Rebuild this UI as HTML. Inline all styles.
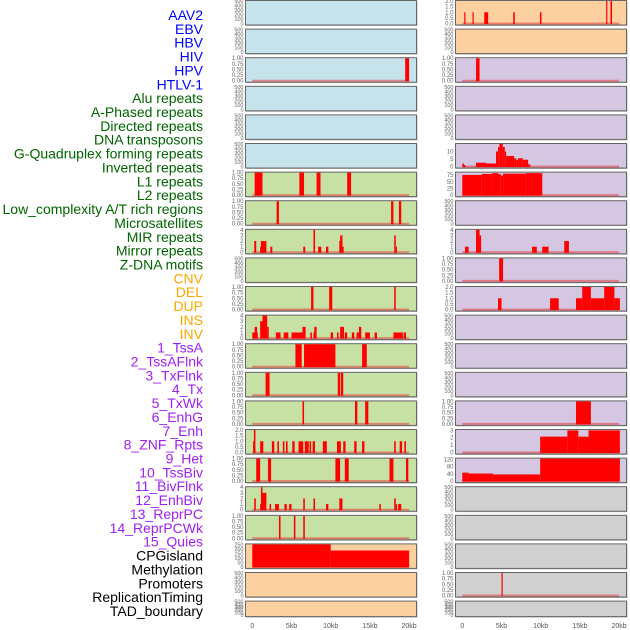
<!DOCTYPE html>
<html><head><meta charset="utf-8"><style>
html,body{margin:0;padding:0;background:#fff;}
svg{display:block;font-family:"Liberation Sans",sans-serif;}
</style></head><body>
<svg id="chart" width="630" height="630" viewBox="0 0 630 630" xmlns="http://www.w3.org/2000/svg">
<g id="labels"></g>
<g id="panels"></g>
<g id="xaxes"></g>
</svg>
<script>
const trackLabels=["AAV2","EBV","HBV","HIV","HPV","HTLV-1","Alu repeats","A-Phased repeats","Directed repeats","DNA transposons","G-Quadruplex forming repeats","Inverted repeats","L1 repeats","L2 repeats","Low_complexity A/T rich regions","Microsatellites","MIR repeats","Mirror repeats","Z-DNA motifs","CNV","DEL","DUP","INS","INV","1_TssA","2_TssAFlnk","3_TxFlnk","4_Tx","5_TxWk","6_EnhG","7_Enh","8_ZNF_Rpts","9_Het","10_TssBiv","11_BivFlnk","12_EnhBiv","13_ReprPC","14_ReprPCWk","15_Quies","CPGisland","Methylation","Promoters","ReplicationTiming","TAD_boundary"];
const labelColors=["#0000ff","#006400","#ffa500","#a020f0","#000000"];
const labelGroupSizes=[6,13,5,15,5];
const xTickKb=[0,5,10,15,20];
const xTickLabels=["0","5kb","10kb","15kb","20kb"];
const ticksEmpty=[0,100,200,300,400,500];
const ticksUnit=[0,0.25,0.5,0.75,1];
const ticksTwo=[0,0.5,1,1.5,2];
const ticksFour=[0,1,2,3,4];
// segments: [startKb, endKb, value]
const L2_hiv=[[19.5,20,1]];
const L6_l1=[[0.3,1.3,1],[6.0,6.6,1],[8.2,8.7,1],[12.1,12.6,1]];
const L7_l2=[[3.1,3.4,1],[17.7,18.0,1],[18.7,19.0,1]];
const L8_low=[[0.25,0.5,2],[1.0,1.3,1],[1.1,1.8,2],[2.3,2.55,1],[6.5,6.75,1],[7.8,8.0,4],[8.4,8.8,1],[9.4,9.7,1],[11.1,11.3,2],[11.2,11.5,3],[11.5,11.6,1],[18.1,18.3,3],[18.3,18.4,1]];
const L10_mir=[[7.5,7.8,1],[9.8,10.2,1],[18.1,18.3,1]];
const L11_mirror=[[0,0.7,1],[0.3,0.6,2],[1.0,1.4,3],[1.3,1.9,4],[1.9,2.1,2],[3.0,3.6,1],[4.0,4.6,1],[5.0,6.4,1],[6.4,6.8,2],[7.4,7.6,1],[7.8,8.0,1],[7.9,8.2,2],[10.0,10.3,1],[10.8,11.0,1],[11.2,11.5,2],[11.5,11.7,2],[11.8,12.1,1],[12.7,13.0,1],[13.3,13.6,1],[13.6,13.9,2],[14.4,15.0,1],[15.6,15.9,1],[18.0,19.2,1],[19.3,19.6,1]];
const L12_zdna=[[5.5,6.3,1],[6.6,10.6,1],[14.0,14.6,1]];
const L13_cnv=[[1.7,2.2,1],[10.9,11.2,1],[11.3,11.6,1]];
const L14_del=[[6.4,6.6,1],[13.1,13.4,1],[14.4,14.8,1]];
const L15_dup=[[0.1,0.3,1],[0.2,0.4,2],[1.0,1.4,1],[2.5,2.8,1],[3.2,3.4,1],[3.9,4.1,1],[4.3,4.5,1],[5.1,5.4,1],[5.9,6.5,1],[6.7,7.2,1],[7.3,7.5,1],[7.7,8.0,1],[9.0,9.5,1],[10.8,11.3,1],[11.6,11.9,1],[13.0,13.3,1],[14.0,14.3,1],[18.1,18.3,1],[18.8,19.1,1],[19.4,19.6,1]];
const L16_ins=[[0.5,1.0,1],[2.0,2.4,1],[10.6,11.2,1],[11.8,12.3,1],[17.5,18.0,1],[19.6,19.9,1]];
const L17_inv=[[0.25,0.45,2],[1.0,1.1,1],[1.1,1.3,4],[1.3,1.8,3],[2.2,2.4,1],[2.9,3.4,1],[4.1,4.4,1],[4.7,5.0,1],[6.5,6.7,2],[7.8,8.0,2],[9.4,9.7,1],[11.1,11.5,2],[16.2,16.4,1],[18.1,18.3,2],[18.3,18.4,1],[18.6,19.0,1]];
const L18_tss=[[3.4,3.6,1],[5.3,5.5,1],[6.5,6.7,1]];
const L19_cpg=[[0,10,250],[10,20,182]];
const R0_seg=[[0.25,0.4,1],[1.3,1.45,1],[2.8,3.3,1],[6.5,6.7,1],[9.9,10.1,1],[18.35,18.5,2],[18.9,19.1,2]];
const R2_seg=[[1.75,2.2,1]];
const R5_seg=[[0,0.2,2],[0.2,0.4,1],[1.75,3.03,2.5],[3.03,4.3,2],[4.3,4.56,10],[4.56,4.73,13],[4.73,5.16,15],[5.16,5.42,13],[5.42,5.59,10],[5.59,6.6,7],[6.6,6.87,5.5],[6.87,7.12,4.5],[7.12,7.72,5.5],[7.72,8.4,4.5],[8.4,8.66,1.5]];
const R6_seg=[[0,2.47,76],[2.47,3.8,80],[3.8,4.56,83],[4.56,4.9,80],[4.9,5.2,74],[5.2,8.1,81],[8.1,10.2,83]];
const R8_seg=[[0.35,0.8,1],[1.75,2.2,4],[2.2,2.4,3],[8.9,9.5,1],[10.2,11.0,1],[13.0,13.6,2]];
const R9_seg=[[4.7,5.2,1]];
const R10_seg=[[4.56,5.0,1],[11.2,12.3,1],[14.5,15.3,1],[15.3,16.4,2],[16.4,18.1,1],[18.1,19.4,2],[19.4,20.1,1]];
const R14_seg=[[14.5,16.4,1]];
const R15_seg=[[9.93,13.4,2.15],[13.4,14.8,3],[14.8,16.1,2.15],[16.1,20.1,3]];
const R16_seg=[[0,0.8,47],[0.8,3.9,42],[3.9,9.93,37],[9.93,20.1,125]];
const R20_seg=[[5.0,5.15,1]];

const BLUE="#c6e2ea",GREEN="#c7e0a4",ORANGE="#fdd09f",PURPLE="#d5c6e2",GREY="#d0d0d0";
const NS="http://www.w3.org/2000/svg";
function mk(tag,attrs,parent){const e=document.createElementNS(NS,tag);for(const k in attrs)e.setAttribute(k,attrs[k]);parent.appendChild(e);return e;}

// labels
const lg=document.getElementById('labels');
let gi=0,cnt=0;
trackLabels.forEach((t,i)=>{
  while(cnt>=labelGroupSizes[gi]){gi++;cnt=0;}
  cnt++;
  const el=mk('text',{x:203,y:15+i*13.86+5,'text-anchor':'end','font-size':14,fill:labelColors[gi]},lg);
  el.textContent=t;
  
  
});

function fmt(t,ticks){
  const mx=ticks[ticks.length-1];
  if(mx===1)return t.toFixed(2);
  if(mx===2)return t.toFixed(1);
  return String(t);
}
const pg=document.getElementById('panels');
function panel(col,row,fill,ticks,ymax,segs){
  const left=col===0?245.5:455.5, width=171;
  const x0=col===0?252.3:462.3, pk=7.84;
  const top=row*28.6+0.5, h=row===21?15.5:24.5;
  const g=mk('g',{},pg);
  
  
  const r=mk('rect',{x:left+1,y:top+1,width:width,height:h,fill:'#bbb'},g);
  const bg=mk('rect',{x:left,y:top,width:width,height:h,fill:fill,stroke:'#666','stroke-width':1},g);
  
  
  const yb=top+h-1.5, yt=top+0.5;
  const ys=v=>yb-(v/ymax)*(yb-yt);
  const xs=k=>x0+k*pk;
  ticks.forEach(t=>{
    const tl=mk('text',{x:left-2,y:ys(t)+2,'text-anchor':'end','font-size':ticks.length===6?5.5:6,fill:'#666'},g);
    tl.textContent=fmt(t,ticks);
    
    
  });
  if(segs){
    const bl=mk('line',{x1:xs(0),x2:xs(20),y1:yb,y2:yb,stroke:'rgba(230,60,60,0.55)','stroke-width':2},g);
    
    
    segs.forEach(s=>{
      const w=Math.max(xs(s[1])-xs(s[0]),1.2);
      const b=mk('rect',{x:xs(s[0]),y:ys(s[2]),width:w,height:yb-ys(s[2])+0.5,fill:'#ff0000'},g);
      
      
    });
  }
}
// left column
for(let r=0;r<6;r++) panel(0,r,BLUE,r===2?ticksUnit:ticksEmpty,r===2?1:500,r===2?L2_hiv:null);
const leftGreen={6:[ticksUnit,1,L6_l1],7:[ticksUnit,1,L7_l2],8:[ticksFour,4,L8_low],9:[ticksEmpty,500,null],10:[ticksUnit,1,L10_mir],11:[ticksFour,4,L11_mirror],12:[ticksUnit,1,L12_zdna],13:[ticksUnit,1,L13_cnv],14:[ticksUnit,1,L14_del],15:[ticksTwo,2,L15_dup],16:[ticksUnit,1,L16_ins],17:[ticksFour,4,L17_inv],18:[ticksUnit,1,L18_tss]};
for(let r=6;r<=18;r++){const p=leftGreen[r];panel(0,r,GREEN,p[0],p[1],p[2]);}
panel(0,19,ORANGE,[0,50,100,150,200,250],250,L19_cpg);
panel(0,20,ORANGE,ticksEmpty,500,null);
panel(0,21,ORANGE,ticksEmpty,500,null);
// right column
panel(1,0,ORANGE,ticksTwo,2,R0_seg);
panel(1,1,ORANGE,ticksEmpty,500,null);
const rightP={2:[ticksUnit,1,R2_seg],3:[ticksEmpty,500,null],4:[ticksEmpty,500,null],5:[[0,5,10],15,R5_seg],6:[[0,25,50,75],85,R6_seg],7:[ticksEmpty,500,null],8:[ticksFour,4,R8_seg],9:[ticksUnit,1,R9_seg],10:[ticksTwo,2,R10_seg],11:[ticksEmpty,500,null],12:[ticksEmpty,500,null],13:[ticksEmpty,500,null],14:[ticksUnit,1,R14_seg],15:[[0,1,2,3],3.05,R15_seg],16:[[0,40,80,120],125,R16_seg]};
for(let r=2;r<=16;r++){const p=rightP[r];panel(1,r,PURPLE,p[0],p[1],p[2]);}
panel(1,17,GREY,ticksEmpty,500,null);
panel(1,18,GREY,ticksEmpty,500,null);
panel(1,19,GREY,ticksEmpty,500,null);
panel(1,20,GREY,ticksUnit,1,R20_seg);
panel(1,21,GREY,ticksEmpty,500,null);
// x axes
const xg=document.getElementById('xaxes');
[252.3,462.3].forEach(x0=>{
  xTickKb.forEach((k,i)=>{
    const t=mk('text',{x:x0+k*7.84,y:628,'text-anchor':'middle','font-size':7,fill:'#555'},xg);
    t.textContent=xTickLabels[i];
    
    
  });
});
</script>
</body></html>
